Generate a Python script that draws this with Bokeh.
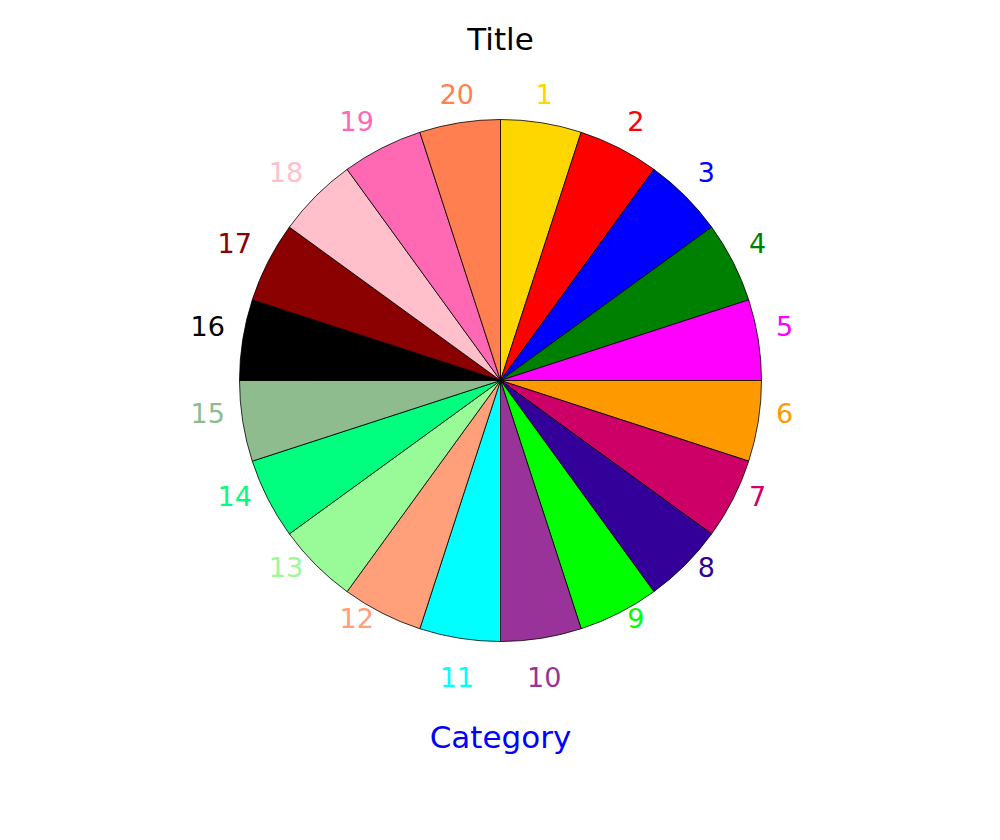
import numpy as np
from bokeh.plotting import figure
from bokeh.models import Range1d, ColumnDataSource
from bokeh.core.properties import value
from bokeh.embed import file_html
from bokeh.resources import INLINE

categories = [str(i) for i in range(1, 21)]
values = [1] * 20
colors = ["#FFD700", "#FF0000", "#0000FF", "#008000", "#FF00FF",
          "#FF9900", "#CC0066", "#330099", "#00FF00", "#993399",
          "#00FFFF", "#FFA07A", "#98FB98", "#00FF7F", "#8FBC8F",
          "#000000", "#8B0000", "#FFC0CB", "#FF69B4", "#FF7F50"]
title_text = "Title"
axis_text = "Category"

vals = np.array(values, dtype=float)
frac = vals / vals.sum()
cum = np.concatenate([[0], np.cumsum(frac)])
start = np.pi / 2 - cum[1:] * 2 * np.pi
end = np.pi / 2 - cum[:-1] * 2 * np.pi
mid = (start + end) / 2

R = 261
LR = 279
c, s = np.cos(mid), np.sin(mid)
align = np.where(np.abs(c) > 0.3, np.where(c > 0, "left", "right"), "center")
lx = LR * c
ly = LR * s + 11 - np.where(s < -0.95, 32, 0)

src = ColumnDataSource(dict(cat=categories, start=start, end=end, color=colors,
                            lx=lx, ly=ly, align=list(align)))

p = figure(width=1000, height=840, output_backend="svg", toolbar_location=None,
           x_range=Range1d(-500, 500), y_range=Range1d(-460, 380),
           min_border=0, outline_line_color=None)
p.axis.visible = False
p.grid.visible = False

p.wedge(x=0, y=0, radius=R, start_angle="start", end_angle="end", source=src,
        fill_color="color", line_color="black", line_width=0.8)

p.text(x="lx", y="ly", text="cat", source=src, text_color="color",
       text_font=value("DejaVu Sans"), text_font_size="27px",
       text_align="align", text_baseline="middle")

p.text(x=[0], y=[342], text=[title_text], text_color="black",
       text_font=value("DejaVu Sans"), text_font_size="31px",
       text_align="center", text_baseline="middle")
p.text(x=[0], y=[-356], text=[axis_text], text_color="#0000FF",
       text_font=value("DejaVu Sans"), text_font_size="31px",
       text_align="center", text_baseline="middle")

open("out.html", "w").write(file_html(p, INLINE))
